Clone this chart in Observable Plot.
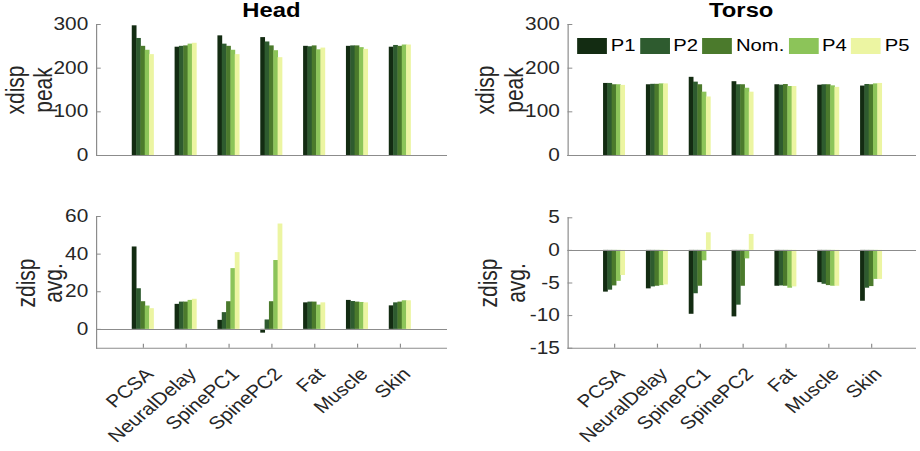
<!DOCTYPE html>
<html><head><meta charset="utf-8">
<script src="https://cdn.jsdelivr.net/npm/d3@7"></script>
<script src="https://cdn.jsdelivr.net/npm/@observablehq/plot@0.6"></script>
<style>
html,body{margin:0;padding:0;background:#fff;}
#outer{position:relative;width:920px;height:451px;overflow:hidden;background:#fff;}
#stage{position:absolute;left:0;top:0;width:773.11px;height:451px;transform:scaleX(1.19);transform-origin:0 0;font-family:"Liberation Sans",Arial,Helvetica,sans-serif;color:#262626;}
.panel{position:absolute;}
.panel svg{display:block;overflow:visible;}
.title{position:absolute;top:0;font-weight:bold;font-size:20px;line-height:20px;text-align:center;color:#000;}
.ylab{position:absolute;font-size:21px;line-height:21px;white-space:nowrap;transform:translate(-50%,-50%) rotate(-90deg);color:#262626;}
#legend{position:absolute;left:485.1px;top:38px;display:flex;align-items:center;font-size:17px;line-height:16px;color:#000;}
#legend .sw{width:25.2px;height:16px;margin-right:3px;}
#legend .lb{margin-right:3.6px;white-space:nowrap;}
</style>
</head><body>
<div id="outer"><div id="stage"></div></div>
<script>
const categories = ["PCSA", "NeuralDelay", "SpinePC1", "SpinePC2", "Fat", "Muscle", "Skin"];
const series = ["P1", "P2", "Nom.", "P4", "P5"];
const colors = ["#132c12", "#2e5b2f", "#4b7a2c", "#8cc459", "#ecf5a2"];

// Head, xdisp peak (one row per series, one value per category)
const headPeak = [
  [297, 248, 274, 270, 250, 250, 248],
  [268, 250, 255, 260, 249, 251, 252],
  [250, 251, 250, 251, 251, 251, 250],
  [241, 255, 241, 240, 242, 247, 253],
  [231, 257, 231, 224, 246, 243, 253]
];
// Head, zdisp avg.
const headAvg = [
  [43.8, 13.3, 4.8, -2.0, 14.1, 15.4, 12.5],
  [21.6, 14.5, 8.9, 5.0, 14.5, 14.8, 14.1],
  [14.7, 14.5, 14.7, 14.7, 14.5, 14.5, 14.5],
  [12.4, 15.4, 32.3, 36.6, 12.9, 14.3, 15.2],
  [11.0, 16.0, 40.8, 56.0, 14.1, 14.1, 15.2]
];
// Torso, xdisp peak
const torsoPeak = [
  [165, 162, 179, 169, 162, 161, 159],
  [165, 163, 168, 162, 161, 162, 162.6],
  [162, 163, 162, 162, 162.5, 162, 162],
  [162, 164, 145, 154, 158, 159.5, 164],
  [160.5, 164, 134, 145, 158, 156, 165]
];
// Torso, zdisp avg.
const torsoAvg = [
  [-6.4, -5.9, -9.8, -10.2, -5.5, -4.95, -7.8],
  [-6.1, -5.6, -6.65, -8.4, -5.45, -5.2, -5.8],
  [-5.45, -5.5, -5.5, -5.5, -5.5, -5.4, -5.55],
  [-4.75, -5.4, -1.6, -1.3, -5.8, -5.5, -4.45],
  [-3.85, -5.3, 2.7, 2.45, -5.6, -5.5, -4.45]
];

const peakTicks = [0, 100, 200, 300];
const headAvgTicks = [0, 20, 40, 60];
const torsoAvgTicks = [-15, -10, -5, 0, 5];
const peakLabel = ["xdisp", "peak"];
const avgLabel = ["zdisp", "avg."];

const axisGray = "#8c8c8c";
const textColor = "#262626";
const fontFamily = '"Liberation Sans", Arial, Helvetica, sans-serif';

function panel(cfg) {
  const {values, yDomain, yTicks, ml, mr, mt, mb, width, height, xAxis} = cfg;
  const pi = 0.9, po = 1.0;
  const step = (width - ml - mr) / (categories.length - pi + 2 * po);
  const bw = step * (1 - pi);
  const data = series.flatMap((s, si) => categories.map((c, ci) => ({cat: c, series: s, si, value: values[si][ci]})));
  const marks = [];
  series.forEach((s, si) => {
    marks.push(Plot.barY(data.filter(d => d.si === si), {x: "cat", y: "value", fill: colors[si], dx: (si - 2) * bw}));
  });
  marks.push(Plot.ruleY([0], {stroke: axisGray, strokeWidth: 1}));
  marks.push(Plot.ruleY([yDomain[0]], {stroke: axisGray, strokeWidth: 1}));
  marks.push(Plot.frame({anchor: "left", stroke: axisGray, strokeWidth: 1}));
  marks.push(Plot.axisY({ticks: yTicks, tickSize: 0, tickPadding: 7, fontSize: 17.5, tickFormat: d => String(d), fill: textColor, label: null}));
  marks.push(Plot.axisY({ticks: yTicks, tickSize: -4, tickFormat: () => "", stroke: axisGray, label: null}));
  if (xAxis) {
    marks.push(Plot.axisX({tickSize: -4, tickFormat: () => "", stroke: axisGray, label: null}));
    marks.push(Plot.axisX({tickSize: 0, tickPadding: 23, tickRotate: -45, textAnchor: "end", lineAnchor: "middle", dx: 5.5, fontSize: 17.5, fill: textColor, label: null}));
  }
  return Plot.plot({
    width, height, marginLeft: ml, marginRight: mr, marginTop: mt, marginBottom: mb,
    x: {domain: categories, paddingInner: pi, paddingOuter: po, axis: null, label: null},
    y: {domain: yDomain, axis: null, label: null},
    style: {fontFamily, background: "transparent", overflow: "visible"},
    marks
  });
}

const stage = document.getElementById("stage");
const LW = 386.55;
const layout = [
  {left: 0, top: 0, width: LW, height: 175, ml: 80.67, mr: 10.92, mt: 24, mb: 20, values: headPeak, yDomain: [0, 300], yTicks: peakTicks, ylabel: peakLabel, labelX: [12.6, 35.7], labelY: 89.5, xAxis: false},
  {left: LW, top: 0, width: LW, height: 175, ml: 89.92, mr: 3.78, mt: 24, mb: 20, values: torsoPeak, yDomain: [0, 300], yTicks: peakTicks, ylabel: peakLabel, labelX: [408, 432.4], labelY: 89.5, xAxis: false},
  {left: 0, top: 175, width: LW, height: 276, ml: 80.67, mr: 10.92, mt: 41, mb: 103.3, values: headAvg, yDomain: [-10, 60], yTicks: headAvgTicks, ylabel: avgLabel, labelX: [21.7, 45.4], labelY: 282.5, xAxis: true},
  {left: LW, top: 175, width: LW, height: 276, ml: 89.92, mr: 3.78, mt: 42.3, mb: 103.3, values: torsoAvg, yDomain: [-15, 5], yTicks: torsoAvgTicks, ylabel: avgLabel, labelX: [410.3, 434.2], labelY: 282.5, xAxis: true}
];
layout.forEach(cfg => {
  const div = document.createElement("div");
  div.className = "panel";
  div.style.left = cfg.left + "px";
  div.style.top = cfg.top + "px";
  div.style.width = cfg.width + "px";
  div.style.height = cfg.height + "px";
  div.appendChild(panel(cfg));
  stage.appendChild(div);
  cfg.ylabel.forEach((line, li) => {
    const l = document.createElement("div");
    l.className = "ylab";
    l.style.left = cfg.labelX[li] + "px";
    l.style.top = cfg.labelY + "px";
    l.textContent = line;
    stage.appendChild(l);
  });
});

const titles = [
  {text: "Head", left: 80.67, width: LW - 80.67 - 10.92},
  {text: "Torso", left: LW + 89.92, width: LW - 89.92 - 3.78}
];
titles.forEach(t => {
  const d = document.createElement("div");
  d.className = "title";
  d.style.left = t.left + "px";
  d.style.width = t.width + "px";
  d.textContent = t.text;
  stage.appendChild(d);
});

const legend = document.createElement("div");
legend.id = "legend";
series.forEach((s, i) => {
  const sw = document.createElement("div");
  sw.className = "sw";
  sw.style.background = colors[i];
  const lb = document.createElement("div");
  lb.className = "lb";
  lb.textContent = s;
  legend.appendChild(sw);
  legend.appendChild(lb);
});
stage.appendChild(legend);
</script>
</body></html>
